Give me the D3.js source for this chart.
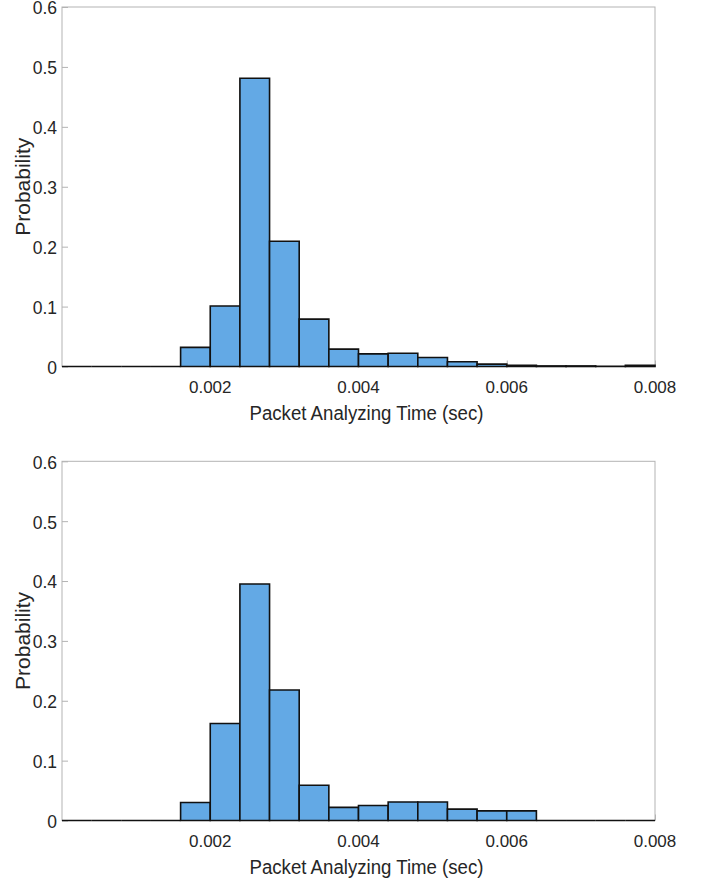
<!DOCTYPE html>
<html>
<head>
<meta charset="utf-8">
<script src="https://cdn.jsdelivr.net/npm/d3@7"></script>
<style>
  body { margin: 0; background: #fff; }
  text { font-family: "Liberation Sans", Arial, sans-serif; fill: #262626; }
</style>
</head>
<body>
<svg id="chart" width="706" height="882"></svg>
<script>
// bin starts (sec), bin width 0.0004
var binStarts = [0, 0.0004, 0.0008, 0.0012, 0.0016, 0.002, 0.0024, 0.0028, 0.0032, 0.0036,
                 0.004, 0.0044, 0.0048, 0.0052, 0.0056, 0.006, 0.0064, 0.0068, 0.0072, 0.0076];
var binWidth = 0.0004;
var topProb = [0, 0, 0, 0, 0.032, 0.101, 0.481, 0.209, 0.079, 0.029,
               0.021, 0.022, 0.015, 0.008, 0.004, 0.002, 0.001, 0.001, 0.0005, 0.002];
var bottomProb = [0, 0, 0, 0, 0.030, 0.162, 0.395, 0.218, 0.059, 0.022,
                  0.025, 0.031, 0.031, 0.019, 0.016, 0.016, 0, 0, 0, 0];
var xTicks = [0.002, 0.004, 0.006, 0.008];
var yTicks = [0, 0.1, 0.2, 0.3, 0.4, 0.5, 0.6];
var xLabel = "Packet Analyzing Time (sec)";
var yLabel = "Probability";

var svg = d3.select("#chart");
var x = d3.scaleLinear().domain([0, 0.008]).range([62, 655]);

function drawPanel(values, y0, y1) {
  var y = d3.scaleLinear().domain([0, 0.6]).range([y0, y1]);
  var g = svg.append("g");

  // frame
  g.append("rect")
    .attr("x", x(0)).attr("y", y(0.6))
    .attr("width", x(0.008) - x(0)).attr("height", y(0) - y(0.6))
    .attr("fill", "none").attr("stroke", "#b3b3b3").attr("stroke-width", 1);

  // y ticks (inward)
  var yAxis = g.append("g")
    .attr("transform", "translate(" + x(0) + ",0)")
    .call(d3.axisRight(y).tickValues(yTicks).tickSize(6).tickFormat(""));
  yAxis.select(".domain").remove();
  yAxis.selectAll("line").attr("stroke", "#b3b3b3");

  g.selectAll(".ylab").data(yTicks).enter().append("text")
    .attr("x", 57).attr("y", function(d) { return y(d); })
    .attr("dy", "0.42em").attr("text-anchor", "end")
    .style("font-size", "17.5px")
    .text(function(d) { return d === 0 ? "0" : d3.format(".1f")(d); });

  // x ticks (inward)
  var xAxis = g.append("g")
    .attr("transform", "translate(0," + y(0) + ")")
    .call(d3.axisTop(x).tickValues(xTicks).tickSize(6).tickFormat(""));
  xAxis.select(".domain").remove();
  xAxis.selectAll("line").attr("stroke", "#b3b3b3");

  g.selectAll(".xlab").data(xTicks).enter().append("text")
    .attr("x", function(d) { return x(d); }).attr("y", y(0) + 26)
    .attr("text-anchor", "middle")
    .style("font-size", "17px")
    .text(function(d) { return d3.format(".3f")(d); });

  // bars (paths so empty bins still show as a line on the baseline)
  g.selectAll(".bar").data(binStarts).enter().append("path")
    .attr("d", function(d, i) {
      var xa = x(d), xb = x(d + binWidth), yt = y(values[i]);
      return "M" + xa + "," + y(0) + "V" + yt + "H" + xb + "V" + y(0) + "Z";
    })
    .attr("fill", "#63a9e5")
    .attr("stroke", "#111")
    .attr("stroke-width", 1.6);

  // axis labels
  g.append("text")
    .attr("x", (x(0) + x(0.008)) / 2 + 8).attr("y", y(0) + 53)
    .attr("text-anchor", "middle")
    .attr("textLength", 234).attr("lengthAdjust", "spacingAndGlyphs")
    .style("font-size", "20px")
    .text(xLabel);

  g.append("text")
    .attr("transform", "translate(30," + ((y(0) + y(0.6)) / 2) + ") rotate(-90)")
    .attr("text-anchor", "middle")
    .style("font-size", "21px")
    .text(yLabel);
}

drawPanel(topProb, 366.5, 7);
drawPanel(bottomProb, 820.5, 461.3);
</script>
</body>
</html>
